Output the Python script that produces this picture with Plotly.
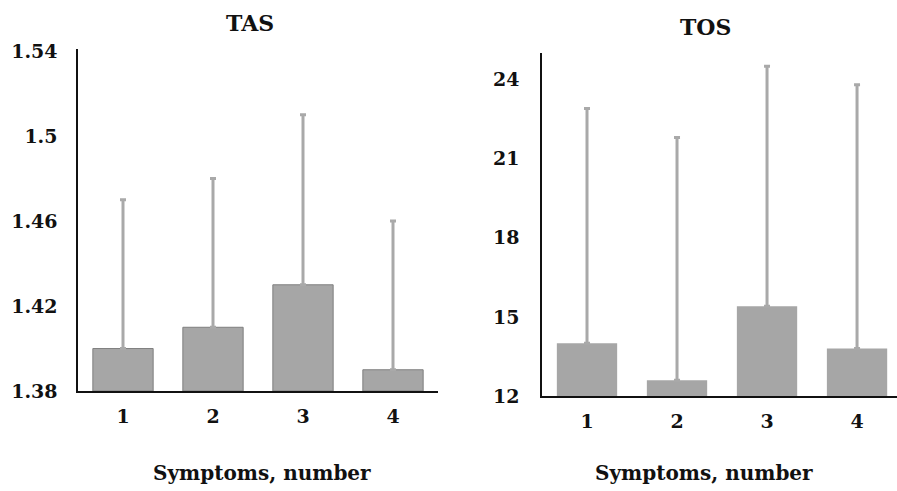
import plotly.graph_objects as go

categories = ["1", "2", "3", "4"]
tas_mean = [1.40, 1.41, 1.43, 1.39]
tas_err = [0.07, 0.07, 0.08, 0.07]
tos_mean = [14.0, 12.6, 15.4, 13.8]
tos_err = [8.9, 9.2, 9.1, 10.0]
tas_ticks = [1.38, 1.42, 1.46, 1.5, 1.54]
tos_ticks = [12, 15, 18, 21, 24]

W, H = 897, 491
FONT = "DejaVu Serif"
BAR = "#a6a6a6"
ERR = "#a9a9a9"
xs = [1, 2, 3, 4]

fig = go.Figure()
fig.add_trace(go.Bar(
    x=xs, y=[m - 1.38 for m in tas_mean], base=1.38, width=0.67,
    marker=dict(color=BAR, line=dict(color="#7f7f7f", width=1)),
    error_y=dict(type="data", symmetric=False, array=tas_err, arrayminus=[0] * 4,
                 color=ERR, thickness=3, width=3),
    xaxis="x", yaxis="y", showlegend=False, hoverinfo="skip"))
fig.add_trace(go.Bar(
    x=xs, y=[m - 12 for m in tos_mean], base=12, width=0.67,
    marker=dict(color=BAR, line=dict(width=0)),
    error_y=dict(type="data", symmetric=False, array=tos_err, arrayminus=[0] * 4,
                 color=ERR, thickness=3, width=3),
    xaxis="x2", yaxis="y2", showlegend=False, hoverinfo="skip"))

axis_common = dict(showgrid=False, zeroline=False, ticks="", automargin=False,
                   showline=True, linecolor="#111", linewidth=1.5,
                   tickfont=dict(family=FONT, size=19, color="#111", weight="bold"))

fig.update_layout(
    width=W, height=H, margin=dict(l=0, r=0, t=0, b=0, autoexpand=False),
    paper_bgcolor="white", plot_bgcolor="white",
    xaxis=dict(domain=[78 / W, 438 / W], range=[0.5, 4.5], tickvals=xs, ticktext=categories,
               anchor="y", ticklabelstandoff=7, **axis_common),
    yaxis=dict(domain=[(H - 391) / H, (H - 49) / H], range=[1.38, 1.541],
               tickvals=tas_ticks, ticktext=[str(t) for t in tas_ticks],
               anchor="x", ticklabelstandoff=15, **axis_common),
    xaxis2=dict(domain=[542 / W, 1.0], range=[0.5, 4.444], tickvals=xs, ticktext=categories,
                anchor="y2", ticklabelstandoff=7, **axis_common),
    yaxis2=dict(domain=[(H - 396) / H, (H - 53) / H], range=[12, 25.0],
                tickvals=tos_ticks, ticktext=[str(t) for t in tos_ticks],
                anchor="x2", ticklabelstandoff=17, **axis_common),
    bargap=0.33,
)

def ann(text, x, y, size):
    fig.add_annotation(text=f"<b>{text}</b>", x=x / W, y=1 - y / H, xref="paper", yref="paper",
                       showarrow=False, xanchor="center", yanchor="middle",
                       font=dict(family=FONT, size=size, color="#111"))

ann("TAS", 250, 23, 22)
ann("TOS", 705, 27, 22)
ann("Symptoms, number", 262, 473, 20)
ann("Symptoms, number", 704, 473, 20)

fig.write_html("out.html", config={"displayModeBar": False},
               post_script="document.body.style.margin='0';document.body.style.overflow='hidden';")
